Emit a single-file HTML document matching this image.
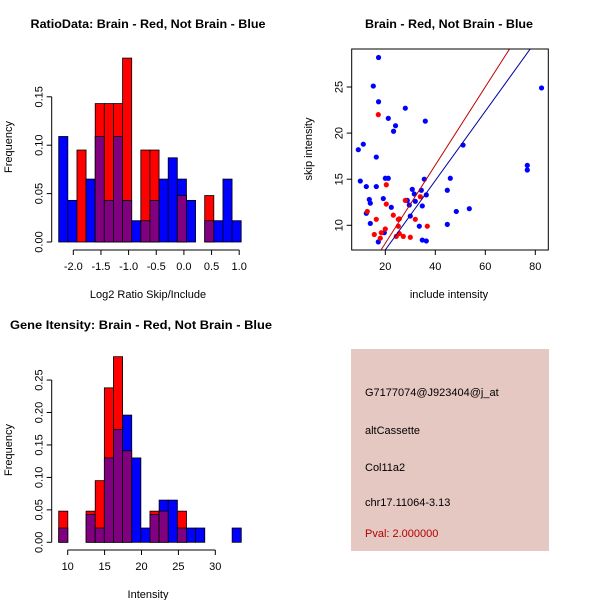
<!DOCTYPE html>
<html><head><meta charset="utf-8">
<style>
html,body{margin:0;padding:0;background:#fff;}
svg{display:block;font-family:"Liberation Sans",Arial,sans-serif;}
</style></head>
<body>
<svg id="chart" width="600" height="600" viewBox="0 0 600 600" xmlns="http://www.w3.org/2000/svg">
<rect width="600" height="600" fill="#fff"/>
<g id="p1"></g>
<g id="p2"></g>
<g id="p3"></g>
<g id="p4">
  <rect x="351" y="349" width="198" height="202" fill="#e6c8c2"/>
  <text x="365" y="396" font-size="11">G7177074@J923404@j_at</text>
  <text x="365" y="434" font-size="11">altCassette</text>
  <text x="365" y="471" font-size="11">Col11a2</text>
  <text x="365" y="506" font-size="11">chr17.11064-3.13</text>
  <text x="365" y="537" font-size="11" fill="#b00000">Pval: 2.000000</text>
</g>
</svg>
<script>
// ---- Ratio histogram data ----
const ratioBreakStart = -2.264;
const ratioBinWidth = 0.165;
const ratioBlue = [0.109,0.043,0,0.065,0.109,0.043,0.109,0.043,0.022,0.022,0.043,0.065,0.087,0.065,0.043,0,0.022,0.022,0.065,0.022];
const ratioRed  = [0,0,0.095,0,0.143,0.143,0.143,0.19,0,0.095,0.095,0,0,0.048,0,0,0.048,0,0,0];
const ratioXTicks = [-2.0,-1.5,-1.0,-0.5,0.0,0.5,1.0];
const ratioXTickLabels = ["-2.0","-1.5","-1.0","-0.5","0.0","0.5","1.0"];
const ratioYTicks = [0,0.05,0.10,0.15];
const ratioYTickLabels = ["0.00","0.05","0.10","0.15"];

// ---- Intensity histogram data ----
const intBreakStart = 8.78;
const intBinWidth = 1.237;
const intBlue = [0.022,0,0,0.043,0.022,0.13,0.174,0.196,0.13,0.022,0.043,0.065,0.065,0.022,0.022,0.022,0,0,0,0.022];
const intRed  = [0.048,0,0,0.048,0.095,0.238,0.286,0.141,0,0,0.048,0.048,0,0.048,0,0,0,0,0,0];
const intXTicks = [10,15,20,25,30];
const intXTickLabels = ["10","15","20","25","30"];
const intYTicks = [0,0.05,0.10,0.15,0.20,0.25];
const intYTickLabels = ["0.00","0.05","0.10","0.15","0.20","0.25"];

// ---- Scatter data ----
const blueX = [17.3,15.2,17.3,28,21.2,24.1,23.3,36,9.2,11.2,16.4,51.1,82.5,76.8,76.8,10,12.4,16.4,20,21.2,35.6,46,44.8,13.6,14,12.4,19.2,22.4,28.8,30.8,31.6,32,34.4,34.8,36.4,29.6,30,48.4,53.6,44.8,14,33.6,19.6,17.2,34.8,36.4];
const blueY = [28.2,25.1,23.4,22.7,21.6,20.8,20.2,21.3,18.2,18.8,17.4,18.7,24.9,16.5,16.0,14.8,14.2,14.2,15.1,15.1,15.0,15.1,13.8,12.8,12.4,11.3,12.9,11.95,12.7,13.9,13.4,12.6,13.8,12.1,13.3,12.2,11.0,11.5,11.8,10.1,10.2,9.9,9.2,8.2,8.4,8.3];
const redX = [17.2,20.4,20.4,12.8,16.4,23.2,25.2,25.6,32,34,36.8,15.6,18.4,20,25.2,18,24.4,25.6,27.2,30,28];
const redY = [22.0,14.4,12.3,11.5,10.65,11.1,10.65,10.7,10.65,13.1,9.9,9.0,9.2,9.6,9.9,8.6,8.8,9.1,8.8,8.7,12.7];
const redLine = [-0.43,0.424];   // intercept, slope
const blueLine = [-0.19,0.376];
const scXTicks = [20,40,60,80];
const scXTickLabels = ["20","40","60","80"];
const scYTicks = [10,15,20,25];
const scYTickLabels = ["10","15","20","25"];

const NS = "http://www.w3.org/2000/svg";
function mk(parent, tag, attrs, text){
  const e = document.createElementNS(NS, tag);
  for (const k in attrs) e.setAttribute(k, attrs[k]);
  if (text !== undefined) e.textContent = text;
  parent.appendChild(e);
  return e;
}

function histogram(g, o){
  const sx = v => o.x0 + (v - o.xv0) * o.xs;
  const sy = v => o.y0 - v * o.ys;
  const base = sy(0);
  for (let i = 0; i < o.blue.length; i++){
    const xl = sx(o.start + i*o.bw), xr = sx(o.start + (i+1)*o.bw);
    const b = o.blue[i], r = o.red[i];
    const hi = Math.max(b,r), lo = Math.min(b,r);
    if (hi > 0){
      const top = mk(g,'rect',{x:xl,y:sy(hi),width:xr-xl,height:base-sy(hi),fill:(b>=r?'#0000ff':'#ff0000'),stroke:'#000','stroke-width':0.8});
      
      
    }
    if (lo > 0){
      const ov = mk(g,'rect',{x:xl,y:sy(lo),width:xr-xl,height:base-sy(lo),fill:'#800080',stroke:'#000','stroke-width':0.8});
      
      
    }
  }
  const ya = mk(g,'line',{x1:o.yAxisX,x2:o.yAxisX,y1:sy(o.yt[0]),y2:sy(o.yt[o.yt.length-1]),stroke:'#000'});
  
  
  o.yt.forEach((t,i)=>{
    mk(g,'line',{x1:o.yAxisX-5,x2:o.yAxisX,y1:sy(t),y2:sy(t),stroke:'#000'});
    const lb = mk(g,'text',{x:0,y:0,'font-size':11,'text-anchor':'middle',transform:`translate(${o.yAxisX-9},${sy(t)}) rotate(-90)`}, o.ytl[i]);
    
    
  });
  const xa = mk(g,'line',{x1:sx(o.xt[0]),x2:sx(o.xt[o.xt.length-1]),y1:o.xAxisY,y2:o.xAxisY,stroke:'#000'});
  
  
  o.xt.forEach((t,i)=>{
    mk(g,'line',{x1:sx(t),x2:sx(t),y1:o.xAxisY,y2:o.xAxisY+5,stroke:'#000'});
    const lb = mk(g,'text',{x:sx(t),y:o.xAxisY+20,'font-size':11,'text-anchor':'middle'}, o.xtl[i]);
    
    
  });
}

const p1 = document.getElementById('p1');
histogram(p1,{x0:73.3,xv0:-2.0,xs:55.3,y0:242,ys:968,start:ratioBreakStart,bw:ratioBinWidth,blue:ratioBlue,red:ratioRed,
  xt:ratioXTicks,xtl:ratioXTickLabels,yt:ratioYTicks,ytl:ratioYTickLabels,yAxisX:51.7,xAxisY:250});
let t = mk(p1,'text',{x:148,y:28,'font-size':12,'font-weight':'bold','text-anchor':'middle',textLength:235,lengthAdjust:'spacingAndGlyphs'},'RatioData: Brain - Red, Not Brain - Blue');
 
t = mk(p1,'text',{x:148,y:298,'font-size':11,'text-anchor':'middle'},'Log2 Ratio Skip/Include');
 
t = mk(p1,'text',{x:0,y:0,'font-size':11,'text-anchor':'middle',transform:'translate(12,147) rotate(-90)'},'Frequency');
 

const p3 = document.getElementById('p3');
histogram(p3,{x0:67.7,xv0:10,xs:7.38,y0:542.3,ys:649,start:intBreakStart,bw:intBinWidth,blue:intBlue,red:intRed,
  xt:intXTicks,xtl:intXTickLabels,yt:intYTicks,ytl:intYTickLabels,yAxisX:51.7,xAxisY:550});
t = mk(p3,'text',{x:141,y:329,'font-size':12,'font-weight':'bold','text-anchor':'middle',textLength:262,lengthAdjust:'spacingAndGlyphs'},'Gene Itensity: Brain - Red, Not Brain - Blue');
 
t = mk(p3,'text',{x:148,y:598,'font-size':11,'text-anchor':'middle'},'Intensity');
 
t = mk(p3,'text',{x:0,y:0,'font-size':11,'text-anchor':'middle',transform:'translate(12,450) rotate(-90)'},'Frequency');
 

// scatter
const p2 = document.getElementById('p2');
const bx0=351.7, bx1=548.3, by0=49, by1=250;
const scX = v => 385.3 + (v-20)*2.5;
const scY = v => 225.3 - (v-10)*9.22;
mk(p2,'clipPath',{id:'clipbox'}).appendChild((()=>{const r=document.createElementNS(NS,'rect');r.setAttribute('x',bx0);r.setAttribute('y',by0);r.setAttribute('width',bx1-bx0);r.setAttribute('height',by1-by0);return r;})());
const pts = mk(p2,'g',{'clip-path':'url(#clipbox)'});
blueX.forEach((x,i)=>{
  const c = mk(pts,'circle',{cx:scX(x),cy:scY(blueY[i]),r:2.6,fill:'#0000ff'});
  
  
});
redX.forEach((x,i)=>{
  const c = mk(pts,'circle',{cx:scX(x),cy:scY(redY[i]),r:2.6,fill:'#ff0000'});
  
  
});
[[redLine,'#c00000','brain-fit-line'],[blueLine,'#0000a0','not-brain-fit-line']].forEach(([ln,col,nm])=>{
  const xa=0, xb=100;
  const l = mk(pts,'line',{x1:scX(xa),y1:scY(ln[0]+ln[1]*xa),x2:scX(xb),y2:scY(ln[0]+ln[1]*xb),stroke:col,'stroke-width':1});
  
  
});
t = mk(p2,'rect',{x:bx0,y:by0,width:bx1-bx0,height:by1-by0,fill:'none',stroke:'#000'});
 
scXTicks.forEach((v,i)=>{
  mk(p2,'line',{x1:scX(v),x2:scX(v),y1:by1,y2:by1+5,stroke:'#000'});
  const lb = mk(p2,'text',{x:scX(v),y:by1+20,'font-size':11,'text-anchor':'middle'},scXTickLabels[i]);
  
  
});
scYTicks.forEach((v,i)=>{
  mk(p2,'line',{x1:bx0-5,x2:bx0,y1:scY(v),y2:scY(v),stroke:'#000'});
  const lb = mk(p2,'text',{x:0,y:0,'font-size':11,'text-anchor':'middle',transform:`translate(${bx0-9},${scY(v)}) rotate(-90)`},scYTickLabels[i]);
  
  
});
t = mk(p2,'text',{x:449,y:28,'font-size':12,'font-weight':'bold','text-anchor':'middle',textLength:168,lengthAdjust:'spacingAndGlyphs'},'Brain - Red, Not Brain - Blue');
 
t = mk(p2,'text',{x:449,y:298,'font-size':11,'text-anchor':'middle'},'include intensity');
 
t = mk(p2,'text',{x:0,y:0,'font-size':11,'text-anchor':'middle',transform:'translate(312,149) rotate(-90)'},'skip intensity');
 
</script>
</body></html>
